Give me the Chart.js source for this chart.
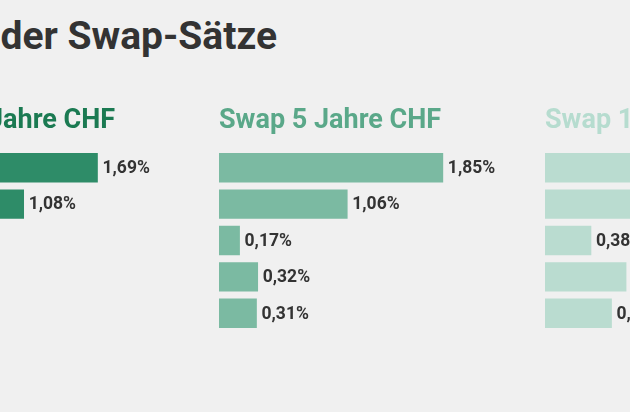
<!DOCTYPE html>
<html><head><meta charset="utf-8">
<script src="https://cdn.jsdelivr.net/npm/chart.js@4"></script>
<style>
html,body{margin:0;padding:0;background:#f0f0f0;width:630px;height:412px;overflow:hidden;position:relative;font-family:Roboto,sans-serif;}
.panel{position:absolute;top:0;width:326px;height:412px;}
#title{position:absolute;right:353px;top:13px;margin:0;white-space:nowrap;font:bold 39px Roboto;color:#333;}
</style></head><body>
<h1 id="title">Entwicklung der Swap-Sätze</h1>
<div class="panel" style="left:-107px"><canvas id="c1"></canvas></div>
<div class="panel" style="left:219px"><canvas id="c2"></canvas></div>
<div class="panel" style="left:545px"><canvas id="c3"></canvas></div>
<script>
const categories = ["Jan 2023", "Jan 2022", "Jan 2021", "Jan 2020", "Jan 2019"];
const panelTitles = ["Swap 2 Jahre CHF", "Swap 5 Jahre CHF", "Swap 10 Jahre CHF"];
const swap2 = [1.69, 1.08, 0.05, 0.12, 0.10];
const swap5 = [1.85, 1.06, 0.17, 0.32, 0.31];
const swap10 = [1.95, 1.12, 0.38, 0.67, 0.55];
const titleColors = ["#1b7a52", "#5aa889", "#b6dccf"];
const barColors = ["#2e8c68", "#7bbaa2", "#badcd0"];
const PX_PER_PCT = 121;

const panelTitlePlugin = {
  id: 'panelTitle',
  afterDraw(chart, args, opts) {
    const ctx = chart.ctx;
    ctx.save();
    ctx.font = 'bold 27px Roboto';
    ctx.fillStyle = opts.color;
    ctx.textBaseline = 'alphabetic';
    ctx.textAlign = 'left';
    ctx.fillText(opts.text, chart.chartArea.left, 128);
    ctx.restore();
  }
};
const valueLabelPlugin = {
  id: 'valueLabels',
  afterDatasetsDraw(chart) {
    const ctx = chart.ctx;
    ctx.save();
    ctx.font = 'bold 17.5px Roboto';
    ctx.fillStyle = '#333';
    ctx.textBaseline = 'middle';
    ctx.textAlign = 'left';
    const meta = chart.getDatasetMeta(0);
    meta.data.forEach((bar, i) => {
      const v = chart.data.datasets[0].data[i];
      ctx.fillText(v.toFixed(2).replace('.', ',') + '%', bar.x + 5, bar.y + 1);
    });
    ctx.restore();
  }
};

function makePanel(id, values, idx) {
  const width = 326;
  new Chart(document.getElementById(id), {
    type: 'bar',
    data: { labels: categories, datasets: [{ data: values, backgroundColor: barColors[idx], barThickness: 28.7 }] },
    options: {
      indexAxis: 'y',
      responsive: true,
      maintainAspectRatio: false,
      animation: false,
      layout: { padding: { top: 149.5, bottom: 80.5, left: 0, right: 0 } },
      scales: {
        x: { display: false, min: 0, max: width / PX_PER_PCT },
        y: { display: false }
      },
      plugins: {
        legend: { display: false },
        tooltip: { enabled: false },
        panelTitle: { text: panelTitles[idx], color: titleColors[idx] }
      }
    },
    plugins: [panelTitlePlugin, valueLabelPlugin]
  });
}
makePanel('c1', swap2, 0);
makePanel('c2', swap5, 1);
makePanel('c3', swap10, 2);
</script>
</body></html>
